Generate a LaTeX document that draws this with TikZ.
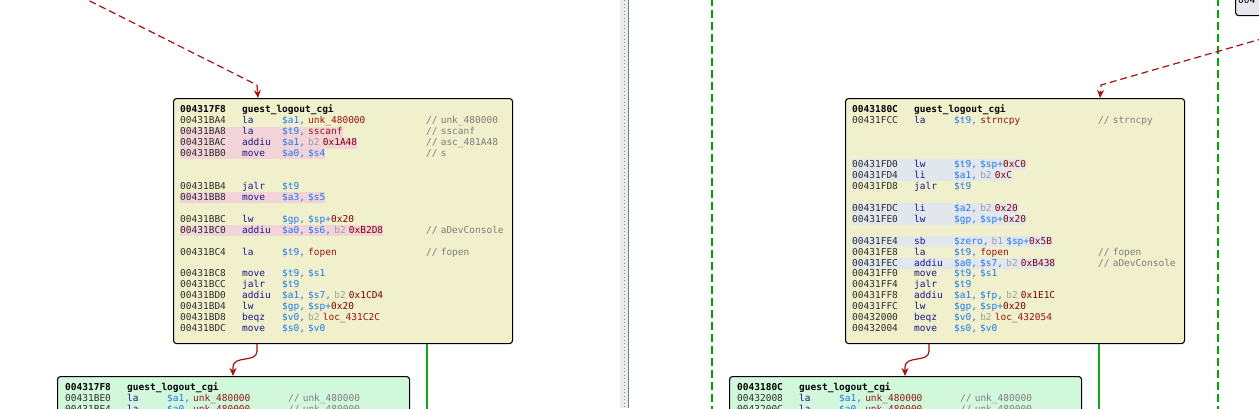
\documentclass[tikz,border=0pt]{standalone}
\usepackage{fontspec}
\setmonofont{DejaVu Sans Mono}
\usetikzlibrary{arrows.meta}

\definecolor{blkyellow}{RGB}{241,240,204}
\definecolor{blkgreen}{RGB}{210,248,220}
\definecolor{blkgray}{RGB}{230,232,238}
\definecolor{hlred}{RGB}{242,212,216}
\definecolor{hlblue}{RGB}{226,231,238}
\definecolor{adrcol}{RGB}{45,45,45}
\definecolor{mnccol}{RGB}{24,24,140}
\definecolor{regcol}{RGB}{30,120,240}
\definecolor{namecol}{RGB}{150,20,20}
\definecolor{numcol}{RGB}{125,0,0}
\definecolor{bcol}{RGB}{160,160,160}
\definecolor{cmtcol}{RGB}{125,125,125}
\definecolor{edgered}{RGB}{168,16,16}
\definecolor{edgegreen}{RGB}{20,165,20}
\definecolor{paneline}{RGB}{112,128,144}

\DeclareRobustCommand\asmfont{\ttfamily\fontsize{9.5}{10.95}\selectfont
    \spaceskip=5.72pt\relax\xspaceskip=5.72pt\relax}

\begin{document}
\begin{tikzpicture}[x=1pt,y=-1pt,
    blk/.style={draw=black, line width=1.1pt, rounded corners=3pt, anchor=north west, inner sep=0pt},
    asmtxt/.style={font=\asmfont, text width=340pt, align=left, inner sep=0pt, anchor=north west},
    redge/.style={draw=edgered, line width=1.2pt, -{Stealth[length=8pt,width=7pt,inset=2.5pt]}},
    gedge/.style={draw=edgegreen, line width=1.3pt},
    gdash/.style={draw=green!65!black, line width=1.4pt, dash pattern=on 8pt off 4pt}]
    \newlength\cmtw
    \newcommand\lnstrut{\rule[-2.95pt]{0pt}{10.95pt}}
    \newcommand\adr[1]{\textcolor{adrcol}{#1}}
    \newcommand\mnc[1]{\textcolor{mnccol}{#1}}
    \newcommand\rg[1]{\textcolor{regcol}{#1}}
    \newcommand\nm[1]{\textcolor{namecol}{#1}}
    \newcommand\nb[1]{\textcolor{numcol}{#1}}
    \newcommand\bx[1]{\textcolor{bcol}{#1}}
    \newcommand\cmt[1]{\if\relax\detokenize{#1}\relax\else\textcolor{cmtcol}{// #1}\fi}
    \newcommand\hdr[2]{\lnstrut\makebox[62pt][l]{\textbf{#1}}\textbf{#2}}
    \newcommand\asmln[4]{% {<addr>}{<mnem>}{<ops>}{<comment>}
        \makebox[\cmtw][l]{\lnstrut\makebox[62pt][l]{\adr{#1}}\makebox[40pt][l]{\mnc{#2}}#3}\cmt{#4}}
    \newcommand\asmhl[5]{% {<colour>}{<addr>}{<mnem>}{<ops>}{<comment>}
        \makebox[\cmtw][l]{\setlength\fboxsep{0pt}\colorbox{#1}{\lnstrut\makebox[62pt][l]{\adr{#2}}\makebox[40pt][l]{\mnc{#3}}#4}}\cmt{#5}}

    \useasboundingbox (0,0) rectangle (1259,408);
    \clip (0,0) rectangle (1259,408);

    % pane separator
    \fill[black!8] (620,0) rectangle (628,408);
    \draw[black!45, dash pattern=on 1pt off 2.5pt] (624,0) -- (624,408);
    \draw[paneline, line width=1pt] (628,0) -- (628,408);

    \draw[gdash] (712,-2) -- (712,410);
    \draw[gdash] (1218,-2) -- (1218,410);

    % left pane
    \node[blk, fill=blkyellow, minimum width=339pt, minimum height=245pt] (blkA) at (173,98) {};
    \node[blk, fill=blkgreen, minimum width=352pt, minimum height=100pt] (blkB) at (57,376) {};
    \setlength\cmtw{246pt}
    \node[asmtxt] (txtA) at (180,104.5) {%
        \hdr{004317F8}{guest\_logout\_cgi}\\
        \asmln{00431BA4}{la}{\rg{\$a1,} \nm{unk\_480000}}{unk\_480000}\\
        \asmhl{hlred}{00431BA8}{la}{\rg{\$t9,} \nm{sscanf}}{sscanf}\\
        \asmhl{hlred}{00431BAC}{addiu}{\rg{\$a1,} \bx{b2} \nb{0x1A48}}{asc\_481A48}\\
        \asmhl{hlred}{00431BB0}{move}{\rg{\$a0, \$s4}}{s}\\
        \lnstrut\\
        \lnstrut\\
        \asmln{00431BB4}{jalr}{\rg{\$t9}}{}\\
        \asmhl{hlred}{00431BB8}{move}{\rg{\$a3, \$s5}}{}\\
        \lnstrut\\
        \asmln{00431BBC}{lw}{\rg{\$gp, \$sp+}\nb{0x20}}{}\\
        \asmhl{hlred}{00431BC0}{addiu}{\rg{\$a0, \$s6,} \bx{b2} \nb{0xB2D8}}{aDevConsole}\\
        \lnstrut\\
        \asmln{00431BC4}{la}{\rg{\$t9,} \nm{fopen}}{fopen}\\
        \lnstrut\\
        \asmln{00431BC8}{move}{\rg{\$t9, \$s1}}{}\\
        \asmln{00431BCC}{jalr}{\rg{\$t9}}{}\\
        \asmln{00431BD0}{addiu}{\rg{\$a1, \$s7,} \bx{b2} \nb{0x1CD4}}{}\\
        \asmln{00431BD4}{lw}{\rg{\$gp, \$sp+}\nb{0x20}}{}\\
        \asmln{00431BD8}{beqz}{\rg{\$v0,} \bx{b2} \nm{loc\_431C2C}}{}\\
        \asmln{00431BDC}{move}{\rg{\$s0, \$v0}}{}};
    \setlength\cmtw{223pt}
    \node[asmtxt] (txtB) at (65,382.5) {%
        \hdr{004317F8}{guest\_logout\_cgi}\\
        \asmln{00431BE0}{la}{\rg{\$a1,} \nm{unk\_480000}}{unk\_480000}\\
        \asmln{00431BE4}{la}{\rg{\$a0,} \nm{unk\_480000}}{unk\_480000}};

    % right pane
    \node[blk, fill=blkyellow, minimum width=339pt, minimum height=245pt] (blkC) at (845,98) {};
    \node[blk, fill=blkgreen, minimum width=352pt, minimum height=100pt] (blkD) at (729,376) {};
    \node[blk, fill=blkgray, minimum width=40pt, minimum height=30pt] (blkE) at (1235,-15) {};
    \node[asmtxt, text width=30pt, anchor=base west] (txtE) at (1238,3.5) {004};
    \setlength\cmtw{246pt}
    \node[asmtxt] (txtC) at (852,104.5) {%
        \hdr{0043180C}{guest\_logout\_cgi}\\
        \asmln{00431FCC}{la}{\rg{\$t9,} \nm{strncpy}}{strncpy}\\
        \lnstrut\\
        \lnstrut\\
        \lnstrut\\
        \asmhl{hlblue}{00431FD0}{lw}{\rg{\$t9, \$sp+}\nb{0xC0}}{}\\
        \asmhl{hlblue}{00431FD4}{li}{\rg{\$a1,} \bx{b2} \nb{0xC}}{}\\
        \asmln{00431FD8}{jalr}{\rg{\$t9}}{}\\
        \lnstrut\\
        \asmhl{hlblue}{00431FDC}{li}{\rg{\$a2,} \bx{b2} \nb{0x20}}{}\\
        \asmhl{hlblue}{00431FE0}{lw}{\rg{\$gp, \$sp+}\nb{0x20}}{}\\
        \lnstrut\\
        \asmhl{hlblue}{00431FE4}{sb}{\rg{\$zero,} \bx{b1} \rg{\$sp+}\nb{0x5B}}{}\\
        \asmln{00431FE8}{la}{\rg{\$t9,} \nm{fopen}}{fopen}\\
        \asmhl{hlblue}{00431FEC}{addiu}{\rg{\$a0, \$s7,} \bx{b2} \nb{0xB438}}{aDevConsole}\\
        \asmln{00431FF0}{move}{\rg{\$t9, \$s1}}{}\\
        \asmln{00431FF4}{jalr}{\rg{\$t9}}{}\\
        \asmln{00431FF8}{addiu}{\rg{\$a1, \$fp,} \bx{b2} \nb{0x1E1C}}{}\\
        \asmln{00431FFC}{lw}{\rg{\$gp, \$sp+}\nb{0x20}}{}\\
        \asmln{00432000}{beqz}{\rg{\$v0,} \bx{b2} \nm{loc\_432054}}{}\\
        \asmln{00432004}{move}{\rg{\$s0, \$v0}}{}};
    \setlength\cmtw{223pt}
    \node[asmtxt] (txtD) at (737,382.5) {%
        \hdr{0043180C}{guest\_logout\_cgi}\\
        \asmln{00432008}{la}{\rg{\$a1,} \nm{unk\_480000}}{unk\_480000}\\
        \asmln{0043200C}{la}{\rg{\$a0,} \nm{unk\_480000}}{unk\_480000}};

    % edges
    \coordinate (inA) at (60,-14);
    \coordinate (inC) at (1275,35);
    \coordinate (outA) at (427,420);
    \coordinate (outC) at (1099,420);
    \draw[redge, dash pattern=on 7pt off 4pt] (inA) -- ([xshift=84pt,yshift=13pt]blkA.north west) -- ([xshift=85pt]blkA.north west);
    \draw[redge, dash pattern=on 7pt off 4pt] (inC) -- ([xshift=256pt,yshift=13pt]blkC.north west) -- ([xshift=255pt]blkC.north west);
    \draw[redge] ([xshift=84pt]blkA.south west) -- ++(0,7) .. controls +(0,12) and +(0,-12) .. ([xshift=176pt,yshift=9pt]blkB.north west) -- ([xshift=176pt]blkB.north west);
    \draw[redge] ([xshift=84pt]blkC.south west) -- ++(0,7) .. controls +(0,12) and +(0,-12) .. ([xshift=176pt,yshift=9pt]blkD.north west) -- ([xshift=176pt]blkD.north west);
    \draw[gedge] ([xshift=254pt]blkA.south west) -- (outA);
    \draw[gedge] ([xshift=254pt]blkC.south west) -- (outC);
\end{tikzpicture}
\end{document}
